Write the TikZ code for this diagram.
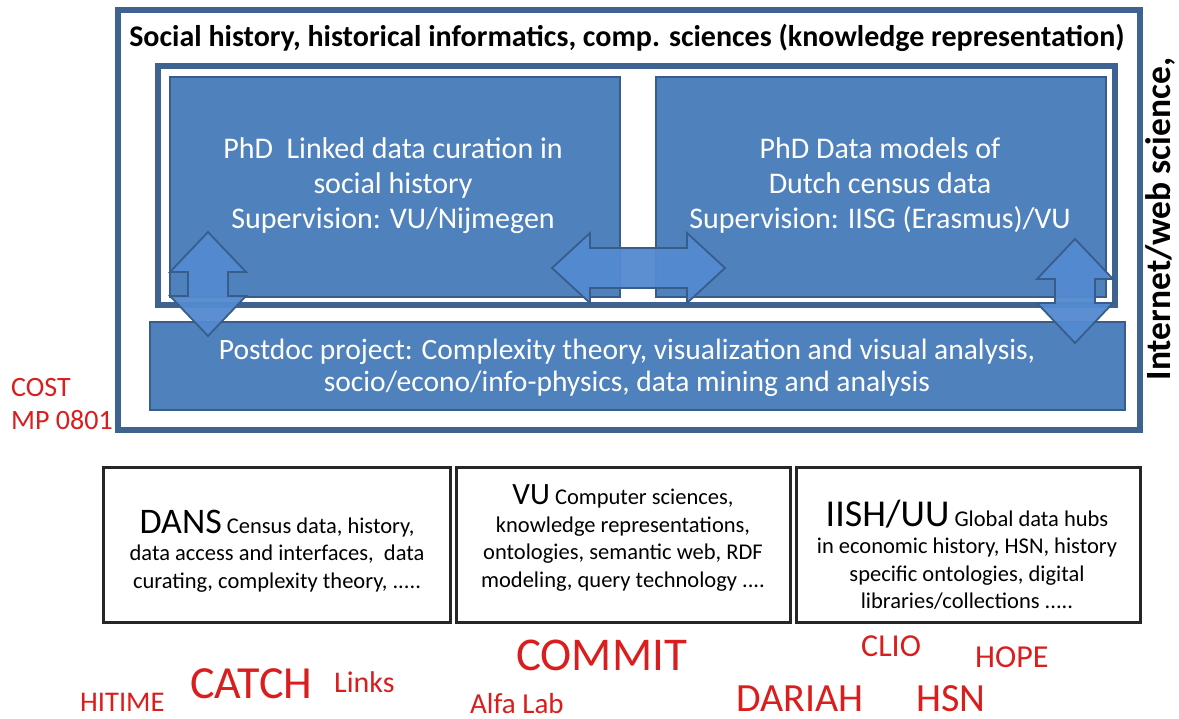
\documentclass[tikz,border=0pt]{standalone}
\usepackage{fontspec}
\setmainfont{Carlito}
\usetikzlibrary{calc}
\definecolor{boxblue}{RGB}{79,129,189}
\definecolor{edgeblue}{RGB}{56,93,138}
\definecolor{frameblue}{RGB}{62,99,145}
\definecolor{arrowblue}{RGB}{84,138,208}
\definecolor{labred}{RGB}{218,30,30}
\tikzset{
  bigframe/.style={draw=frameblue, line width=6, fill=none, inner sep=0},
  bluebox/.style={draw=edgeblue, line width=1.5, fill=boxblue, inner sep=0, text=white, align=center},
  bluetext/.style={text=white, align=center, inner sep=0},
  blockarrow/.style={draw=edgeblue, line width=1.8, fill=arrowblue, fill opacity=0.95, line join=miter},
  whitebox/.style={draw=black!85, line width=3, inner sep=0},
  boxtext/.style={align=center, inner sep=0, font=\fontsize{22.5}{27.5}\selectfont},
  redlab/.style={text=labred, inner sep=0, text depth=0pt, anchor=base west},
}
\begin{document}
\begin{tikzpicture}[x=1pt,y=-1pt]
\useasboundingbox (0,0) rectangle (1179,719);
\fill[white] (0,0) rectangle (1179,719);

% outer frame
\node[bigframe, minimum width=1022, minimum height=420] (outer) at (629,220) {};
\node[inner sep=0, font=\fontsize{30}{34}\selectfont\bfseries] (title) at (627,38)
  {Social history, historical informatics, comp. sciences (knowledge representation)};

% inner frame
\node[bigframe, line width=5.5, minimum width=957, minimum height=239] (inner) at (636.5,185.5) {};

% PhD boxes
\node[bluebox, minimum width=450, minimum height=220] (phdL) at (395,187) {};
\node[bluetext, font=\fontsize{30}{35}\selectfont] (phdLt) at (393,186)
  {PhD\ \ Linked data curation in\\ social history\\ Supervision: VU/Nijmegen};
\node[bluebox, minimum width=450, minimum height=220] (phdR) at (881,187) {};
\node[bluetext, font=\fontsize{30}{35}\selectfont] (phdRt) at (880,186)
  {PhD Data models of\\ Dutch census data\\ Supervision: IISG (Erasmus)/VU};

% postdoc box
\node[bluebox, minimum width=975, minimum height=88] (post) at (637.5,366) {};
\node[bluetext, font=\fontsize{29.5}{32}\selectfont] (postt) at (627,368)
  {Postdoc project: Complexity theory, visualization and visual analysis,\\ socio/econo/info-physics, data mining and analysis};

% block arrows
\coordinate (la) at (208,284);
\draw[blockarrow] ($(la)+(0,-52)$) -- ++(38,40) -- ++(-18,0) -- ++(0,24) -- ++(18,0)
  -- ($(la)+(0,52)$) -- ++(-38,-40) -- ++(18,0) -- ++(0,-24) -- ++(-18,0) -- cycle;
\coordinate (ma) at (638.5,268);
\draw[blockarrow] ($(ma)+(-86.5,0)$) -- ++(38,-35) -- ++(0,15) -- ++(97,0) -- ++(0,-15)
  -- ($(ma)+(86.5,0)$) -- ++(-38,35) -- ++(0,-15) -- ++(-97,0) -- ++(0,15) -- cycle;
\coordinate (ra) at (1075,291);
\draw[blockarrow] ($(ra)+(0,-52)$) -- ++(38,40) -- ++(-18,0) -- ++(0,24) -- ++(18,0)
  -- ($(ra)+(0,52)$) -- ++(-38,-40) -- ++(18,0) -- ++(0,-24) -- ++(-18,0) -- cycle;

% vertical side text
\node[inner sep=0, rotate=90, font=\fontsize{35.5}{40}\selectfont\bfseries] (web) at (1160,219)
  {Internet/web science,};

% COST label
\node[text=labred, inner sep=0, anchor=west, align=left, font=\fontsize{28}{33}\selectfont] (cost) at (11,404)
  {COST\\MP 0801};

% bottom boxes
\node[whitebox, minimum width=347, minimum height=155] (dans) at (276.5,544.5) {};
\node[whitebox, minimum width=334, minimum height=155] (vu) at (623,544.5) {};
\node[whitebox, minimum width=344, minimum height=155] (iish) at (968,544.5) {};

\node[boxtext] (danst) at (277,551)
  {{\fontsize{36}{36}\selectfont DANS} Census data, history,\\ data access and interfaces,\ \ data\\ curating, complexity theory, .....};
\node[boxtext] (vut) at (623,538)
  {{\fontsize{31}{31}\selectfont VU} Computer sciences,\\ knowledge representations,\\ ontologies, semantic web, RDF\\ modeling, query technology ....};
\node[boxtext] (iisht) at (967,555)
  {{\fontsize{38}{38}\selectfont IISH/UU} Global data hubs\\ in economic history, HSN, history\\ specific ontologies, digital\\ libraries/collections .....};

% red project labels
\node[redlab, font=\fontsize{28.5}{28}\selectfont] (hitime) at (80,711) {HITIME};
\node[redlab, font=\fontsize{46}{46}\selectfont] (catch) at (190,698) {CATCH};
\node[redlab, font=\fontsize{30}{30}\selectfont] (links) at (334,692) {Links};
\node[redlab, font=\fontsize{47}{47}\selectfont] (commit) at (516,670) {COMMIT};
\node[redlab, font=\fontsize{29}{29}\selectfont] (alfa) at (470,713) {Alfa Lab};
\node[redlab, font=\fontsize{32}{32}\selectfont] (clio) at (861,656) {CLIO};
\node[redlab, font=\fontsize{32}{32}\selectfont] (hope) at (975,667) {HOPE};
\node[redlab, font=\fontsize{40}{40}\selectfont] (dariah) at (736,711) {DARIAH};
\node[redlab, font=\fontsize{40}{40}\selectfont] (hsn) at (916,711) {HSN};
\end{tikzpicture}
\end{document}
